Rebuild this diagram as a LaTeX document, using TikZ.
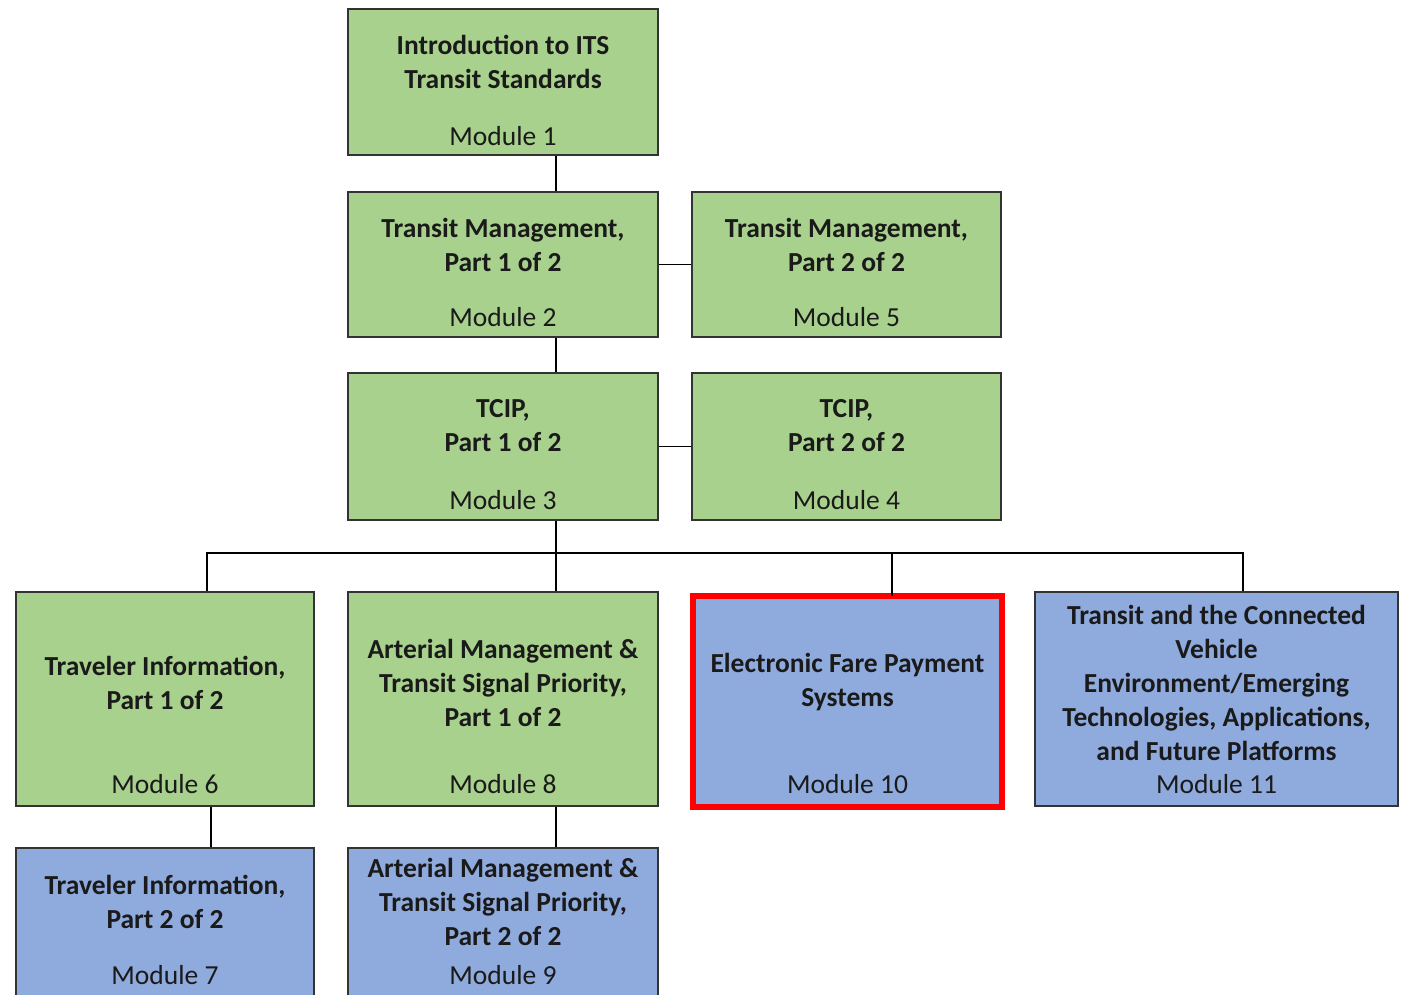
\documentclass[tikz,border=0pt]{standalone}
\usepackage{fontspec}
\setmainfont{Carlito}
\usetikzlibrary{calc}
\definecolor{boxgreen}{HTML}{A9D18E}
\definecolor{boxblue}{HTML}{8FAADC}
\definecolor{edgegray}{HTML}{333333}
\definecolor{inkdark}{HTML}{1A1A1A}
\tikzset{
  modbox/.style={draw=edgegray, line width=1.6pt, inner sep=0pt},
  greenbox/.style={modbox, fill=boxgreen},
  bluebox/.style={modbox, fill=boxblue},
  currentbox/.style={fill=boxblue, draw=red, line width=5.5pt, inner sep=0pt},
  title/.style={align=center, text=inkdark, font=\fontsize{27.5}{34}\selectfont\bfseries, inner sep=0pt},
  modlabel/.style={text=inkdark, font=\fontsize{27.5}{34}\selectfont, inner sep=0pt},
  link/.style={draw=black, line width=1.6pt}
}
\begin{document}
\begin{tikzpicture}[x=1pt, y=-1pt]
\clip (0,0) rectangle (1401,994);
\fill[white] (0,0) rectangle (1401,994);

% boxes: centre, width, height
\node[greenbox, minimum width=310, minimum height=146] (m1) at (503,82) {};
\node[greenbox, minimum width=310, minimum height=145] (m2) at (503,264.5) {};
\node[greenbox, minimum width=309, minimum height=145] (m5) at (846.5,264.5) {};
\node[greenbox, minimum width=310, minimum height=147] (m3) at (503,446.5) {};
\node[greenbox, minimum width=309, minimum height=147] (m4) at (846.5,446.5) {};
\node[greenbox, minimum width=298, minimum height=214] (m6) at (165,699) {};
\node[greenbox, minimum width=310, minimum height=214] (m8) at (503,699) {};
\node[currentbox, minimum width=309, minimum height=211] (m10) at (847.5,701.5) {};
\node[bluebox, minimum width=363, minimum height=214] (m11) at (1216.5,699) {};
\node[bluebox, minimum width=298, minimum height=170] (m7) at (165,933) {};
\node[bluebox, minimum width=310, minimum height=170] (m9) at (503,933) {};

% titles
\node[title] (t1) at (503,62) {Introduction to ITS\\Transit Standards};
\node[title] (t2) at (503,245) {Transit Management,\\Part 1 of 2};
\node[title] (t5) at (846.5,245) {Transit Management,\\Part 2 of 2};
\node[title] (t3) at (503,426) {TCIP,\\Part 1 of 2};
\node[title] (t4) at (846.5,426) {TCIP,\\Part 2 of 2};
\node[title] (t6) at (165,682.5) {Traveler Information,\\Part 1 of 2};
\node[title] (t8) at (503,682.5) {Arterial Management \&\\Transit Signal Priority,\\Part 1 of 2};
\node[title] (t10) at (847.5,682.5) {Electronic Fare Payment\\Systems};
\node[title] (t11) at (1216.5,682.5) {Transit and the Connected\\Vehicle\\Environment/Emerging\\Technologies, Applications,\\and Future Platforms};
\node[title] (t7) at (165,901.5) {Traveler Information,\\Part 2 of 2};
\node[title] (t9) at (503,901.5) {Arterial Management \&\\Transit Signal Priority,\\Part 2 of 2};

% module numbers
\node[modlabel] (l1) at (503,136) {Module 1};
\node[modlabel] (l2) at (503,317) {Module 2};
\node[modlabel] (l5) at (846.5,317) {Module 5};
\node[modlabel] (l3) at (503,500) {Module 3};
\node[modlabel] (l4) at (846.5,500) {Module 4};
\node[modlabel] (l6) at (165,784) {Module 6};
\node[modlabel] (l8) at (503,784) {Module 8};
\node[modlabel] (l10) at (847.5,784) {Module 10};
\node[modlabel] (l11) at (1216.5,784) {Module 11};
\node[modlabel] (l7) at (165,975) {Module 7};
\node[modlabel] (l9) at (503,975) {Module 9};

% junction points of the tree
\coordinate (spine) at (556,553);
\coordinate (busL) at (207,553);
\coordinate (busR) at (1243,553);
\coordinate (drop10) at (892,553);
\coordinate (spine6) at (211,0);

% connectors
\draw[link] (spine |- m1.south) -- (spine |- m2.north);
\draw[link] (spine |- m2.south) -- (spine |- m3.north);
\draw[link] (m2.east) -- (m5.west);
\draw[link] (m3.east) -- (m4.west);
\draw[link] (spine |- m3.south) -- (spine);
\draw[link] (busL |- m6.north) -- (busL) -- (busR) -- (busR |- m11.north);
\draw[link] (spine) -- (spine |- m8.north);
\draw[link] (drop10) -- ($(drop10 |- m10.north)+(0,2.75)$);
\draw[link] (spine6 |- m6.south) -- (spine6 |- m7.north);
\draw[link] (spine |- m8.south) -- (spine |- m9.north);
\end{tikzpicture}
\end{document}
